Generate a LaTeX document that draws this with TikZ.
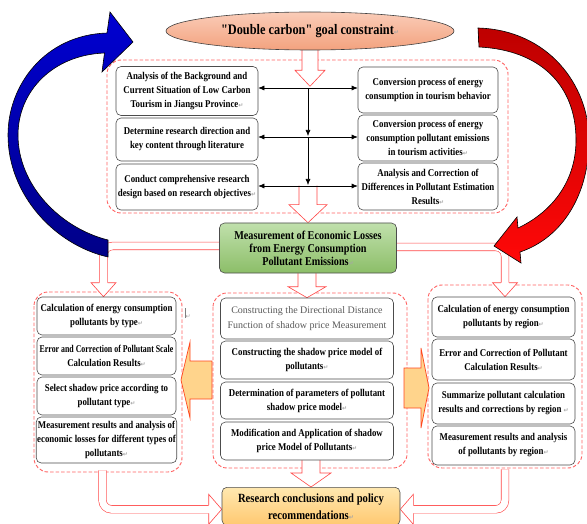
\documentclass[tikz,border=0pt]{standalone}
\usepackage{fontspec}
\usepackage{graphicx}
\setmainfont{Liberation Serif}
\newfontfamily\condfont[FakeStretch=0.85]{Liberation Serif}
\newfontfamily\symfont{DejaVu Sans}
\newcommand{\retmark}{{\symfont\fontsize{6}{6}\selectfont\color{black!35}↵}}
\usetikzlibrary{calc, shapes.geometric, arrows.meta}
\pgfdeclarelayer{back}
\pgfdeclarelayer{front}
\pgfsetlayers{back,main,front}
\definecolor{dashred}{RGB}{255,95,95}
\definecolor{arrowred}{RGB}{255,70,70}
\definecolor{goaltop}{RGB}{250,204,184}
\definecolor{goalbot}{RGB}{243,162,126}
\definecolor{greentop}{RGB}{192,224,172}
\definecolor{greenbot}{RGB}{140,190,104}
\definecolor{restop}{RGB}{255,232,176}
\definecolor{resbot}{RGB}{255,200,112}
\definecolor{sideorange}{RGB}{255,212,140}
\definecolor{orangeline}{RGB}{255,70,30}
\definecolor{bluetop}{RGB}{0,0,210}
\definecolor{bluebot}{RGB}{0,0,135}
\definecolor{redtop}{RGB}{190,0,0}
\definecolor{redbot}{RGB}{255,8,8}
\begin{document}
\begin{tikzpicture}[x=1pt, y=-1pt,
box/.style={draw=black!70, fill=white, rounded corners=5, align=center, inner sep=1pt, line width=0.6pt,
  font=\condfont\bfseries\fontsize{10.4}{14}\selectfont},
panel/.style={draw=dashred, dash pattern=on 3.5pt off 2pt, line width=0.9pt, rounded corners=14},
hollow/.style={draw=arrowred, fill=white, line width=0.6pt},
conn/.style={draw=arrowred, line width=0.6pt, double=white, double distance=7pt, rounded corners=9},
sidearrow/.style={draw=orangeline, fill=sideorange, line width=0.7pt},
link/.style={{Latex[length=6pt,width=5pt]}-{Latex[length=6pt,width=5pt]}, line width=0.6pt},
vlink/.style={-{Latex[length=6pt,width=5pt]}, line width=0.6pt, shorten >=1pt},
]
\useasboundingbox (0,0) rectangle (587,524);

% main nodes
\node[ellipse, draw=black!75, line width=0.6pt, top color=goaltop, bottom color=goalbot, minimum width=288, minimum height=38,
  font=\condfont\bfseries\fontsize{14.5}{16}\selectfont] (goal) at (310,31) {"Double carbon" goal constraint\retmark};
\node[box, top color=greentop, bottom color=greenbot, minimum width=177, minimum height=50,
  font=\condfont\bfseries\fontsize{12}{13}\selectfont] (meas) at (308,248) {Measurement of Economic Losses\\from Energy Consumption\\Pollutant Emissions\retmark};
\node[box, top color=restop, bottom color=resbot, minimum width=178, minimum height=38, anchor=north,
  font=\condfont\bfseries\fontsize{12.5}{17}\selectfont] (research) at (311,487) {Research conclusions and policy\\recommendations\retmark};

% boxes
\node[box, minimum width=142, minimum height=49] (a1) at (187,91) {Analysis of the Background and\\Current Situation of Low Carbon\\Tourism in Jiangsu Province\retmark};
\node[box, minimum width=142, minimum height=43] (a2) at (187,139.5) {Determine research direction and\\key content through literature};
\node[box, minimum width=142, minimum height=46] (a3) at (187,187) {Conduct comprehensive research\\design based on research objectives\retmark};
\node[box, minimum width=140, minimum height=46] (b1) at (428,90) {Conversion process of energy\\consumption in tourism behavior};
\node[box, minimum width=140, minimum height=46] (b2) at (428,138) {Conversion process of energy\\consumption pollutant emissions\\in tourism activities\retmark};
\node[box, minimum width=140, minimum height=47] (b3) at (428,186.5) {Analysis and Correction of\\Differences in Pollutant Estimation\\Results\retmark};

\node[box, minimum width=139, minimum height=38] (c1) at (106.5,316) {Calculation of energy consumption\\pollutants by type\retmark};
\node[box, minimum width=139, minimum height=38] (c2) at (106.5,356) {\scalebox{0.89}[1]{Error and Correction of Pollutant Scale}\\Calculation Results\retmark};
\node[box, minimum width=139, minimum height=38] (c3) at (106.5,396) {Select shadow price according to\\pollutant type\retmark};
\node[box, minimum width=139, minimum height=46] (c4) at (106.5,440) {Measurement results and analysis of\\economic losses for different types of\\pollutants\retmark};
\node[text=black!50, inner sep=0pt] (stray) at (188,313) {\rule{0.4pt}{10pt}\retmark};

\node[box, minimum width=173, minimum height=41, text=black!65, font=\rmfamily\fontsize{10}{15}\selectfont] (d1) at (307,318.5) {Constructing the Directional Distance\\Function of shadow price Measurement};
\node[box, minimum width=173, minimum height=38] (d2) at (307,360) {Constructing the shadow price model of\\pollutants\retmark};
\node[box, minimum width=173, minimum height=37] (d3) at (307,400.5) {Determination of parameters of pollutant\\shadow price model\retmark};
\node[box, minimum width=173, minimum height=38] (d4) at (307,441) {Modification and Application of shadow\\price Model of Pollutants\retmark};

\node[box, minimum width=143, minimum height=40] (e1) at (503.5,317) {Calculation of energy consumption\\pollutants by region\retmark};
\node[box, minimum width=143, minimum height=41] (e2) at (503.5,359.5) {Error and Correction of Pollutant\\Calculation Results\retmark};
\node[box, minimum width=143, minimum height=41] (e3) at (503.5,403.5) {Summarize pollutant calculation\\results and corrections by region \retmark};
\node[box, minimum width=143, minimum height=39] (e4) at (503.5,445.5) {Measurement results and analysis\\of pollutants by region\retmark};

% links inside the top group
\draw[link] ([yshift=3pt]a1.east) -- ([yshift=3pt]a1.east -| b1.west) coordinate[midway] (v1);
\draw[link] ([yshift=2.5pt]a2.east) -- ([yshift=2.5pt]a2.east -| b2.west) coordinate[midway] (v2);
\draw[link] ([yshift=1pt]a3.east) -- ([yshift=1pt]a3.east -| b3.west) coordinate[midway] (v3);
\draw[vlink] (v1) -- (v2);
\draw[vlink] (v2) -- (v3);

\begin{pgfonlayer}{back}
% dashed groups
\draw[panel] (107,60) rectangle (508,213);
\draw[panel] (34,292) rectangle (182,472);
\draw[panel] (213,293) rectangle (407,468);
\draw[panel] (428,285) rectangle (582,468);

% side arrows
\draw[sidearrow] (212,361) -- (190,361) -- (190,342) -- (181,380) -- (190,418) -- (190,399) -- (212,399) -- cycle;
\draw[sidearrow] (404,368) -- (421,368) -- (421,348) -- (429,388) -- (421,428) -- (421,408) -- (404,408) -- cycle;

% hollow arrows
\draw[hollow] ($(goal.south)+(-8,-6)$) -- ++(0,26) -- ++(-7,0) -- ++(15,16) -- ++(15,-16) -- ++(-7,0) -- ++(0,-26);
\draw[hollow] ($(meas.north)+(-9,-37)$) -- ++(0,19) -- ++(-10,0) -- (meas.north) -- ++(19,-18) -- ++(-10,0) -- ++(0,-19);
\draw[hollow] ($(d1.north)+(-9,-28)$) -- ++(0,17) -- ++(-10,0) -- (d1.north) -- ++(19,-11) -- ++(-10,0) -- ++(0,-17);
\draw[hollow] ($(research.north)+(-9,-29)$) -- ++(0,15) -- ++(-11,0) -- (research.north) -- ++(20,-14) -- ++(-11,0) -- ++(0,-15);

% connectors from the green box to the side groups
\draw[conn] ($(meas.west)+(5,-2)$) -| ($(c1.north)+(-3,-12)$);
\draw[hollow] ($(c1.north)+(-7.1,-14)$) -- ++(-8.4,0) -- ++(12.5,14) -- ++(12.5,-14) -- ++(-8.4,0);
\draw[conn] ($(meas.east)+(-5,-1)$) -| ($(e1.north)+(1.5,-12)$);
\draw[hollow] ($(e1.north)+(-2.6,-14)$) -- ++(-8.4,0) -- ++(12.5,14) -- ++(12.5,-14) -- ++(-8.4,0);

% connectors into the research box
\draw[conn] ($(c4.south)+(-4,7)$) |- ($(research.west)+(-11,3)$);
\draw[conn] ($(e4.south)+(1.5,4)$) |- ($(research.east)+(11,3)$);
\draw[hollow] ($(research.west)+(-13,-1.1)$) -- ++(0,-10.9) -- ++(13,15) -- ++(-13,15) -- ++(0,-10.9);
\draw[hollow] ($(research.east)+(13,-1.1)$) -- ++(0,-10.9) -- ++(-13,15) -- ++(13,15) -- ++(0,-10.9);
\end{pgfonlayer}

\begin{pgfonlayer}{front}
% big curved arrows
\draw[draw=black, line width=0.6pt, top color=bluetop, bottom color=bluebot]
  (108,257) .. controls (55,245) and (8,195) .. (8,135) .. controls (8,85) and (45,35) .. (107,33)
  -- (110,12) -- (133,42) -- (102,72) -- (104.5,53)
  .. controls (52,55) and (18,92) .. (18,135) .. controls (18,185) and (60,228) .. (108,240) -- cycle;
\draw[draw=black, line width=0.6pt, top color=redtop, bottom color=redbot]
  (478,28) .. controls (548,30) and (589,85) .. (589,140) .. controls (589,195) and (562,238) .. (520,252)
  -- (521,263) -- (494,246) -- (517,217) -- (518,228)
  .. controls (548,214) and (576,185) .. (576,140) .. controls (576,85) and (540,50) .. (479,47) -- cycle;
\end{pgfonlayer}
\end{tikzpicture}
\end{document}
